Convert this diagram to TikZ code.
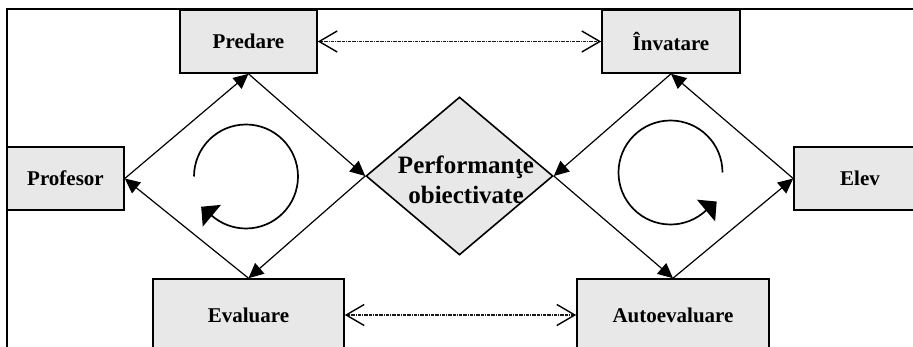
\documentclass[tikz,border=0pt]{standalone}
\usepackage{fontspec}
\setmainfont{Liberation Serif}
\usetikzlibrary{shapes.geometric,arrows.meta}

\tikzset{
    box/.style={shape=rectangle,draw=black,line width=1.6pt,fill=black!9,inner sep=0pt,
        font=\bfseries\fontsize{21}{25}\selectfont},
    flow/.style={line width=1.2pt,-{Triangle[length=15pt,width=14pt]}},
    link/.style={line width=1.1pt,black!90,dash pattern=on 3pt off 0.8pt on 1pt off 0.8pt,
        {Straight Barb[length=18pt,width=21pt,black,line width=1.4pt]}-{Straight Barb[length=18pt,width=21pt,black,line width=1.4pt]}},
    turn/.style={line width=1.7pt,-{Triangle[length=14pt,width=28pt]}}
}

\begin{document}
\begin{tikzpicture}[x=1pt,y=1pt]
    \useasboundingbox (0,0) rectangle (913,-347);
    \clip (0,0) rectangle (913,-347);
    \draw[line width=1.2pt] (7,-360) -- (7,-9) -- (930,-9);

    \node[box,minimum width=137pt,minimum height=63pt] (Predare) at (248.5,-41.5) {Predare};
    \node[box,minimum width=138pt,minimum height=63pt] (Invatare) at (671,-41.5) {Învatare};
    \node[box,minimum width=117pt,minimum height=63pt] (Profesor) at (65.5,-178.5) {Profesor};
    \node[box,minimum width=132pt,minimum height=63pt] (Elev) at (860,-178.5) {Elev};
    \node[box,minimum width=191pt,minimum height=72pt] (Evaluare) at (248.5,-315) {Evaluare};
    \node[box,minimum width=192pt,minimum height=72pt] (Autoevaluare) at (673,-315) {Autoevaluare};
    \node[shape=diamond,draw=black,line width=1.6pt,fill=black!9,inner sep=0pt,
        minimum width=187pt,minimum height=158pt] (perf) at (459.5,-176) {};
    \node[align=center,font=\bfseries\fontsize{25}{30}\selectfont] (perftext) at (466,-180)
        {Performanţe\\obiectivate};

    % ciclul profesorului
    \draw[flow] (Profesor.east) -- (Predare.south);
    \draw[flow] (Predare.south) -- (perf.west);
    \draw[flow] (perf.west) -- (Evaluare.north);
    \draw[flow] (Evaluare.north) -- (Profesor.east);
    % ciclul elevului
    \draw[flow] (Elev.west) -- (Invatare.south);
    \draw[flow] (Invatare.south) -- (perf.east);
    \draw[flow] (perf.east) -- (Autoevaluare.north);
    \draw[flow] (Autoevaluare.north) -- (Elev.west);

    \draw[link] (Predare.east) -- (Invatare.west);
    \draw[link] (Evaluare.east) -- (Autoevaluare.west);

    \coordinate (cycleL) at (246,-176.5);
    \coordinate (cycleR) at (670.5,-172.5);
    \draw[turn] ([shift={(180:52)}]cycleL) arc[start angle=180,end angle=-131,radius=52] -- ++(140:14);
    \draw[turn] ([shift={(0:52)}]cycleR) arc[start angle=0,end angle=313,radius=52] -- ++(40:14);
\end{tikzpicture}
\end{document}
